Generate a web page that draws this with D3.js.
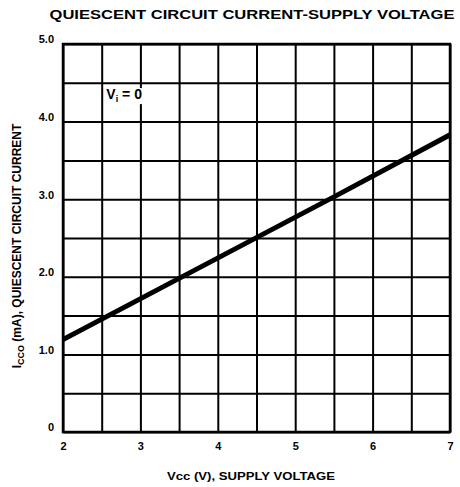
<!DOCTYPE html>
<html>
<head>
<meta charset="utf-8">
<script src="https://cdn.jsdelivr.net/npm/d3@7"></script>
<style>
  body { margin: 0; background: #fff; }
  svg text { font-family: "Liberation Sans", Arial, sans-serif; fill: #000; }
</style>
</head>
<body>
<svg width="460" height="487"></svg>
<script>
// supply voltage (V) and quiescent current (mA)
const vcc = [2, 3.5, 5.5, 7];
const icc = [1.19, 1.98, 3.03, 3.83];

const xTicks = [2, 3, 4, 5, 6, 7];
const yTicks = [0, 1, 2, 3, 4, 5];
const yTickLabels = ["0", "1.0", "2.0", "3.0", "4.0", "5.0"];
const xGrid = d3.range(2, 7.001, 0.5);
const yGrid = d3.range(0, 5.001, 0.5);

let svg = d3.select('svg');
let width = +svg.attr('width');
let height = +svg.attr('height');
let margin = { top: 44, bottom: 55, left: 63, right: 10 };

let x = d3.scaleLinear()
  .domain([2, 7])
  .range([margin.left, width - margin.right]);
let y = d3.scaleLinear()
  .domain([0, 5])
  .range([height - margin.bottom, margin.top]);

// grid
svg.append("g")
  .attr("transform", `translate(0,${y(0)})`)
  .call(d3.axisBottom(x).tickValues(xGrid).tickSize(-(y(0) - y(5))).tickFormat(""))
  .call(g => g.select(".domain").remove())
  .call(g => g.selectAll("line").attr("stroke", "#000").attr("stroke-width", 2));

svg.append("g")
  .attr("transform", `translate(${x(2)},0)`)
  .call(d3.axisLeft(y).tickValues(yGrid).tickSize(-(x(7) - x(2))).tickFormat(""))
  .call(g => g.select(".domain").remove())
  .call(g => g.selectAll("line").attr("stroke", "#000").attr("stroke-width", 2));

// frame
svg.append("rect")
  .attr("x", x(2)).attr("y", y(5))
  .attr("width", x(7) - x(2)).attr("height", y(0) - y(5))
  .attr("fill", "none").attr("stroke", "#000").attr("stroke-width", 2.5);

// tick labels
svg.append("g")
  .attr("transform", `translate(0,${y(0) + 4})`)
  .call(d3.axisBottom(x).tickValues(xTicks).tickSize(0).tickFormat(d3.format("d")))
  .call(g => g.select(".domain").remove())
  .call(g => g.selectAll("text")
    .attr("font-size", 11).attr("font-weight", "bold").attr("dy", "1em"));

svg.append("g")
  .attr("transform", `translate(${x(2) - 6},0)`)
  .call(d3.axisLeft(y).tickValues(yTicks).tickSize(0).tickFormat((d, i) => yTickLabels[i]))
  .call(g => g.select(".domain").remove())
  .call(g => g.selectAll("text")
    .attr("font-size", 11).attr("font-weight", "bold").attr("dy", "-0.1em"));

// curve
let clipId = "plotclip";
svg.append("clipPath").attr("id", clipId)
  .append("rect")
  .attr("x", x(2)).attr("y", y(5))
  .attr("width", x(7) - x(2)).attr("height", y(0) - y(5));

let line = d3.line()
  .x(d => x(d[0]))
  .y(d => y(d[1]));

svg.append("path")
  .datum(vcc.map((v, i) => [v, icc[i]]))
  .attr("clip-path", `url(#${clipId})`)
  .attr("fill", "none")
  .attr("stroke", "#000")
  .attr("stroke-width", 5)
  .attr("d", line);

// annotation, on a white patch that hides the grid behind it
let annG = svg.append("g");
let annBg = annG.append("rect").attr("fill", "#fff");
let ann = annG.append("text")
  .attr("x", x(2.56)).attr("y", y(4.29))
  .attr("font-size", 14).attr("font-weight", "bold");
ann.append("tspan").text("V");
ann.append("tspan").attr("font-size", 9).attr("dy", 3).text("i");
ann.append("tspan").attr("dy", -3).text(" = 0");
let bb = ann.node().getBBox();
annBg.attr("x", bb.x - 1).attr("y", bb.y + 2)
  .attr("width", bb.width + 2).attr("height", bb.height - 2);

// title
svg.append("text")
  .attr("x", 252).attr("y", 19)
  .attr("text-anchor", "middle")
  .attr("font-size", 12).attr("font-weight", 900)
  .attr("textLength", 405).attr("lengthAdjust", "spacingAndGlyphs")
  .text("QUIESCENT CIRCUIT CURRENT-SUPPLY VOLTAGE");

// x axis title
let xt = svg.append("text")
  .attr("x", 251).attr("y", 480)
  .attr("text-anchor", "middle")
  .attr("font-size", 11).attr("font-weight", 900)
  .attr("textLength", 168).attr("lengthAdjust", "spacingAndGlyphs");
xt.append("tspan").text("Vcc (V), SUPPLY VOLTAGE");

// y axis title
let yt = svg.append("text")
  .attr("transform", `translate(21,${(y(0) + y(5)) / 2 + 8}) rotate(-90)`)
  .attr("text-anchor", "middle")
  .attr("font-size", 12).attr("font-weight", 900);
yt.append("tspan").text("I");
yt.append("tspan").attr("font-size", 9).attr("dy", 3).text("CCO");
yt.append("tspan").attr("dy", -3).text(" (mA), QUIESCENT CIRCUIT CURRENT");
</script>
</body>
</html>
